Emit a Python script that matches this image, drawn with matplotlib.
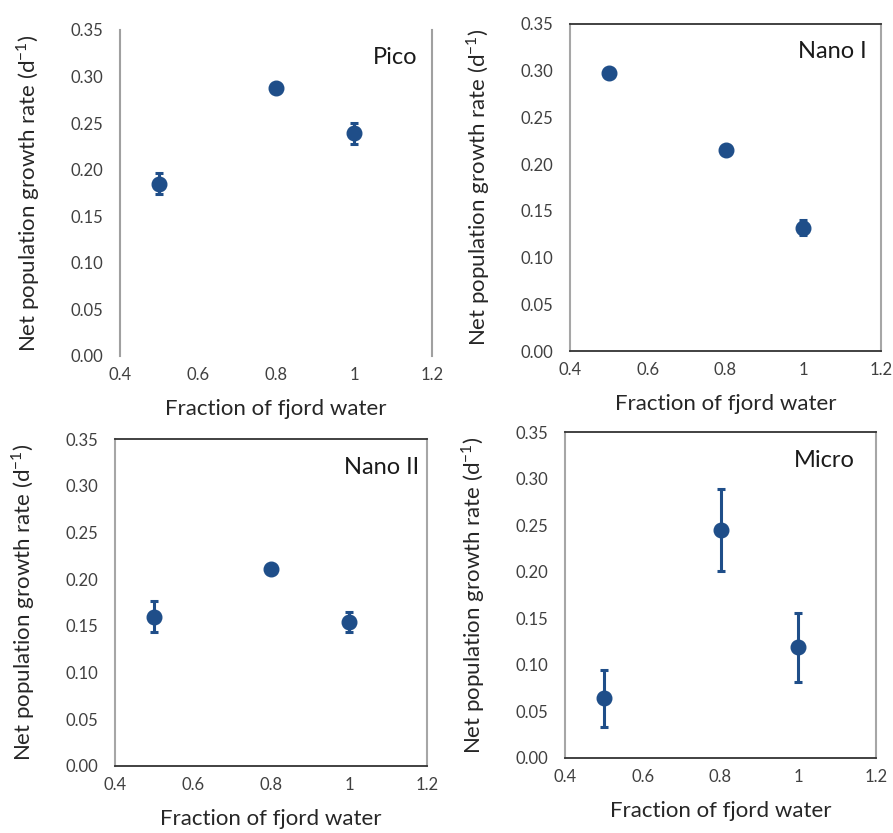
import numpy as np
import matplotlib
matplotlib.use('Agg')
import matplotlib.pyplot as plt

plt.rcParams['font.family'] = ['Lato', 'DejaVu Sans']
plt.rcParams['mathtext.fontset'] = 'custom'
plt.rcParams['mathtext.rm'] = 'Lato'

# data
fraction = [0.5, 0.8, 1.0]
pico = [0.185, 0.288, 0.239]
pico_err = [0.011, 0.003, 0.011]
nano1 = [0.298, 0.215, 0.132]
nano1_err = [0.003, 0.003, 0.008]
nano2 = [0.160, 0.211, 0.154]
nano2_err = [0.017, 0.003, 0.011]
micro = [0.064, 0.245, 0.119]
micro_err = [0.031, 0.044, 0.037]

panels = ['Pico', 'Nano I', 'Nano II', 'Micro']
series = [pico, nano1, nano2, micro]
errors = [pico_err, nano1_err, nano2_err, micro_err]

xticks = [0.4, 0.6, 0.8, 1.0, 1.2]
xtick_labels = ['0.4', '0.6', '0.8', '1', '1.2']
yticks = np.arange(0, 0.351, 0.05)

W, H = 893, 833
# axes boxes in pixels: left, right, top, bottom
boxes = [(120, 432, 30, 356), (570, 881, 24, 351),
         (115, 427, 439, 766), (565, 876, 432, 758)]
title_off = [15, 14, 8, 21]

color = '#1f4e89'

fig = plt.figure(figsize=(W / 100, H / 100), dpi=100)

for i, (l, r, t, b) in enumerate(boxes):
    ax = fig.add_axes([l / W, 1 - b / H, (r - l) / W, (b - t) / H])
    ax.errorbar(fraction, series[i], yerr=errors[i], fmt='o', color=color,
                ms=10.5, elinewidth=2.2, capsize=3, capthick=2.2)
    ax.set_xlim(0.4, 1.2)
    ax.set_ylim(0, 0.35)
    ax.set_xticks(xticks)
    ax.set_xticklabels(xtick_labels)
    ax.set_yticks(yticks)
    ax.set_yticklabels(['%.2f' % v for v in yticks])
    ax.tick_params(axis='both', length=0, labelsize=12, colors='#404040')
    ax.tick_params(axis='y', pad=12)
    ax.tick_params(axis='x', pad=8)

    if i == 0:
        ax.spines['top'].set_visible(False)
        ax.spines['bottom'].set_visible(False)
        ax.spines['left'].set_color('#a0a0a0')
        ax.spines['right'].set_color('#a0a0a0')
        ax.spines['left'].set_linewidth(1.5)
        ax.spines['right'].set_linewidth(1.5)
    else:
        for s in ['top', 'bottom']:
            ax.spines[s].set_color('#333333')
            ax.spines[s].set_linewidth(1.3)
        for s in ['left', 'right']:
            ax.spines[s].set_color('#a6a6a6')
            ax.spines[s].set_linewidth(1.5)

    ax.set_xlabel('Fraction of fjord water', fontsize=16, color='#262626', va='center')
    ax.xaxis.set_label_coords(0.5, -53 / (b - t))
    ax.set_ylabel(r'Net population growth rate (d$^{-1}$)', fontsize=16,
                  color='#262626', va='center')
    ax.yaxis.set_label_coords(-92 / (r - l), 0.5)

    ax.text(1 - title_off[i] / (r - l), 1 - 28 / (b - t), panels[i],
            transform=ax.transAxes, ha='right', va='center',
            fontsize=17, color='#1a1a1a')

fig.savefig('out.png', dpi=100)
